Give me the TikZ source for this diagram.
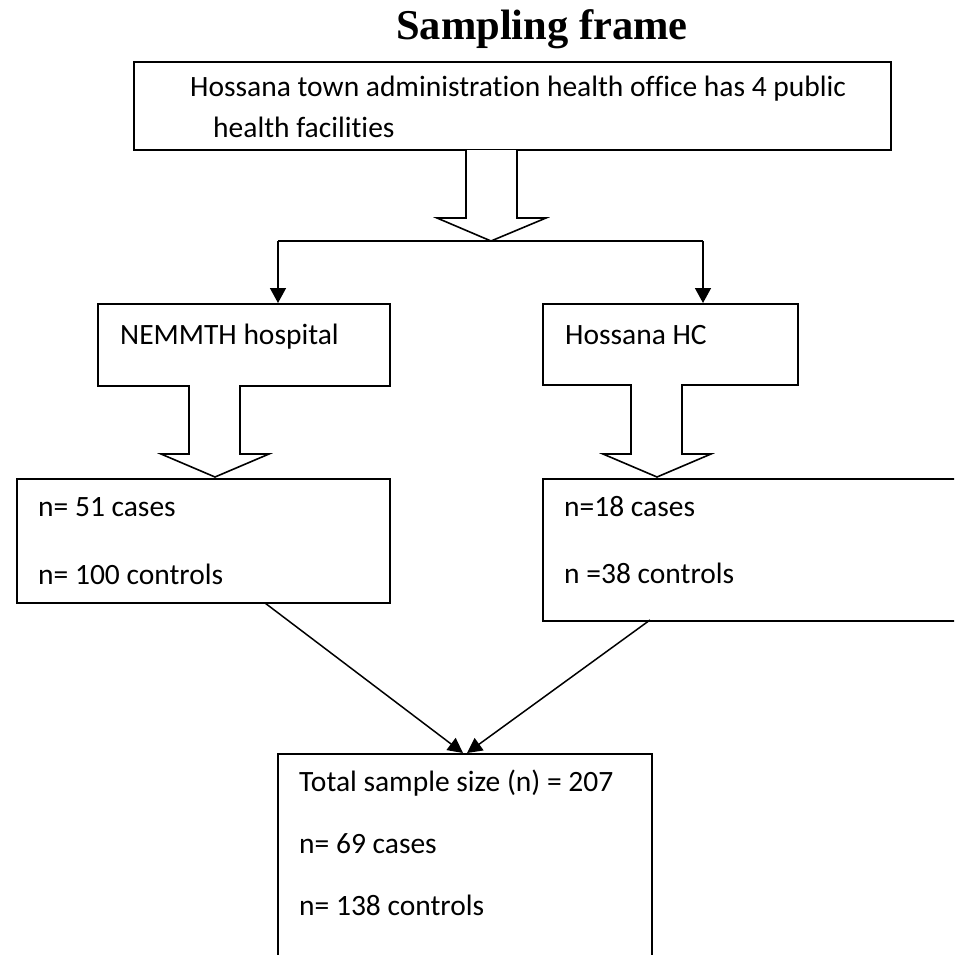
\documentclass[tikz,border=0pt]{standalone}
\usepackage{fontspec}
\setmainfont{Carlito}[Ligatures=NoCommon]
\newfontfamily\titlefont{Liberation Serif}
\usetikzlibrary{arrows.meta}
\begin{document}
\begin{tikzpicture}[x=1pt,y=-1pt,
  box/.style={draw,line width=1.6pt,inner sep=0pt,anchor=north west},
  txt/.style={anchor=base west,inner sep=0pt,font=\fontsize{29.5}{35}\selectfont},
  hollow/.style={draw,line width=1.6pt,fill=white,line join=miter},
  conn/.style={line width=1.5pt,-{Triangle[width=16pt,length=15pt]}},
  diag/.style={line width=1.5pt,-{Triangle[width=15pt,length=15pt]}}]
\clip (0,0) rectangle (954,955);
\fill[white] (0,0) rectangle (954,955);
% title
\node[anchor=base,inner sep=0pt,font=\titlefont\bfseries\fontsize{42.5}{48}\selectfont] (title) at (542,40) {Sampling frame};
% boxes
\node[box,minimum width=757pt,minimum height=88pt] (top) at (133,61) {};
\node[box,minimum width=292pt,minimum height=82pt] (nem) at (97,303) {};
\node[box,minimum width=255pt,minimum height=81pt] (hc) at (542,303) {};
\node[box,minimum width=373pt,minimum height=124pt] (b51) at (16,478) {};
\node[box,minimum width=430pt,minimum height=142pt] (b18) at (542,478) {};
\node[box,minimum width=374pt,minimum height=230pt] (tot) at (277,753) {};
% texts
\node[txt] (t1) at (190,97) {Hossana town administration health office has 4 public};
\node[txt] (t2) at (213,137) {health facilities};
\node[txt] (tn) at (120,344) {NEMMTH hospital};
\node[txt] (th) at (565,344) {Hossana HC};
\node[txt] (a1) at (38,516) {n= 51 cases};
\node[txt] (a2) at (38,584) {n= 100 controls};
\node[txt] (c1) at (564,516) {n=18 cases};
\node[txt] (c2) at (564,583) {n =38 controls};
\node[txt] (d1) at (299,791) {Total sample size (n) = 207};
\node[txt] (d2) at (299,853) {n= 69 cases};
\node[txt] (d3) at (299,915) {n= 138 controls};
% hollow arrows
\draw[hollow] (466,150) -- (466,218) -- (437,218) -- (491,241) -- (546,218) -- (517,218) -- (517,150);
\draw[hollow] (189,385) -- (189,454) -- (161,454) -- (215,477) -- (269,454) -- (240,454) -- (240,385);
\draw[hollow] (631,384) -- (631,454) -- (603,454) -- (657,477) -- (711,454) -- (682,454) -- (682,384);
% split connector
\coordinate (split) at (491,241);
\coordinate (sl) at (278,241);
\coordinate (sr) at (703,241);
\draw[line width=1.5pt] (sl) -- (sr);
\draw[conn] (sl) -- (sl |- nem.north);
\draw[conn] (sr) -- (sr |- hc.north);
% diagonal connectors
\coordinate (f1) at (265,603);
\coordinate (f2) at (650,620);
\coordinate (e1) at (463,753);
\coordinate (e2) at (467,753);
\draw[diag] (f1) -- (e1);
\draw[diag] (f2) -- (e2);
\end{tikzpicture}
\end{document}
